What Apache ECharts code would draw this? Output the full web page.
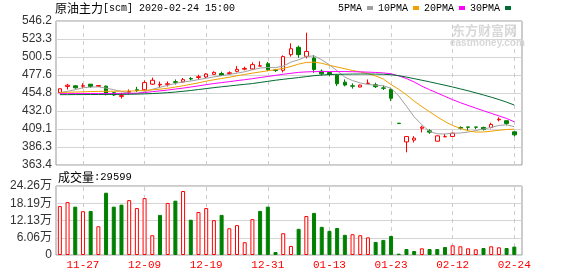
<!DOCTYPE html>
<html><head><meta charset="utf-8">
<script src="https://cdn.jsdelivr.net/npm/echarts@6/dist/echarts.min.js"></script>
<style>html,body{margin:0;padding:0;background:#fff}#c{width:578px;height:276px}</style>
</head><body><div id="c"></div>
<script>
const dateLabels = ['11-27','12-09','12-19','12-31','01-13','01-23','02-12','02-24'];
const dateLabelIdx = [3,11,19,27,35,43,51,59];
const priceTicks = ['363.4','386.3','409.1','432.0','454.8','477.6','500.5','523.3','546.2'];
const volTicks = ['0','6.06万','12.13万','18.19万','24.26万'];
const maNames = ['5PMA','10PMA','20PMA','30PMA'];

const openP = [455.2,463.1,463.9,463.5,466.0,463.2,463.5,455.2,450.5,455.8,
  459.0,458.9,466.0,465.0,465.8,469.2,468.8,473.2,474.5,475.1,
  478.5,479.5,479.5,482.3,485.0,485.3,489.0,492.0,484.0,483.6,
  503.5,512.8,501.3,499.2,482.5,480.8,477.4,468.6,463.9,462.4,
  467.0,465.3,461.3,459.4,416.5,392.7,395.0,410.0,406.8,393.6,
  399.2,399.6,411.0,411.7,411.6,411.1,411.1,420.8,419.6,405.5];
const closeP = [460.2,464.7,461.4,464.0,463.1,464.3,453.1,452.3,451.5,456.8,
  458.0,468.0,471.0,465.8,466.5,468.3,471.7,472.6,475.5,478.9,
  481.0,477.0,480.5,484.8,486.0,490.8,489.3,484.4,483.5,501.0,
  511.0,503.5,507.6,484.6,479.1,478.3,466.5,464.9,463.5,464.9,
  467.3,462.8,460.8,448.1,416.0,399.5,397.5,411.5,405.1,400.4,
  399.4,403.8,410.2,411.3,411.4,408.5,414.9,421.5,416.2,401.7];
const lowP = [455.0,459.3,460.2,460.6,461.4,463.0,451.8,451.0,447.7,452.7,
  456.0,458.5,465.0,462.0,463.0,465.5,467.9,470.9,471.7,473.8,
  478.0,476.8,478.1,481.0,483.6,484.0,488.8,482.7,481.5,481.0,
  501.0,499.5,498.8,480.4,477.0,476.2,463.6,463.2,460.3,462.0,
  466.8,461.1,458.6,444.7,415.9,379.5,391.9,404.7,403.0,393.3,
  399.0,399.3,408.5,407.3,408.9,407.2,409.8,418.8,413.6,399.5];
const highP = [460.5,466.4,464.7,467.2,466.2,464.5,464.3,455.6,455.0,459.3,
  462.6,470.9,474.3,469.3,469.5,472.0,473.8,475.0,478.0,480.0,
  482.3,481.9,482.3,489.0,488.2,493.7,495.0,494.2,485.0,502.6,
  517.9,515.0,531.4,503.0,484.6,481.2,478.0,472.0,467.0,465.5,
  472.0,467.8,464.4,461.5,416.5,400.0,400.0,413.2,408.9,400.8,
  402.8,404.3,412.4,411.9,411.7,412.0,417.1,423.9,420.0,405.8];
const volume = [172000,186000,170000,154000,155000,101000,219000,170000,177000,193000,
  165000,200000,69500,141000,183000,191000,225000,124000,151000,165000,
  122500,141000,94000,105000,45000,126000,155000,170000,10600,76500,
  32000,92000,137000,148000,99000,85000,95000,71000,73000,69500,
  62000,46000,53000,67000,4700,21000,14000,23500,21000,21000,
  28000,34000,30600,23500,20000,24700,30600,27000,24700,29599];
const volUp = [1,1,0,1,0,1,0,0,0,1, 1,1,1,0,1,0,1,0,1,1, 1,0,1,1,1,1,0,0,0,1,
  1,0,1,0,0,0,0,0,1,1, 1,0,0,0,0,0,0,1,0,0, 0,1,1,1,1,0,1,1,0,0];
const ma5 = [455.0,457.0,459.0,461.5,462.3,462.6,461.0,459.0,456.8,454.5,
  453.8,456.5,459.5,462.0,464.5,467.0,468.8,470.0,471.8,473.5,
  475.2,476.8,478.4,480.0,481.8,484.3,486.5,487.2,487.0,489.0,
  494.0,497.0,501.0,502.0,497.0,490.5,483.0,475.0,470.5,467.6,
  465.6,464.7,463.9,460.8,451.0,438.0,424.5,414.5,406.0,403.0,
  402.8,403.8,404.0,405.2,407.2,409.0,411.2,413.6,414.5,412.0];
const ma10 = [455.5,455.8,456.0,456.3,456.6,456.8,457.0,457.0,457.1,457.3,
  457.5,458.0,458.8,459.7,460.8,462.3,464.0,465.8,467.7,469.8,
  471.6,473.2,474.8,476.6,478.4,480.0,481.5,483.0,484.4,486.0,
  488.5,491.5,493.6,494.0,492.5,490.0,487.8,485.6,483.4,481.5,
  479.5,476.5,472.5,465.5,459.5,452.5,444.5,437.5,431.0,424.5,
  418.5,413.5,410.0,406.8,405.2,405.3,406.3,407.5,408.5,408.8];
const ma20 = [454.0,454.0,454.1,454.1,454.2,454.2,454.2,454.2,454.3,454.4,
  454.6,455.3,456.5,457.5,458.5,459.8,461.0,462.4,463.8,465.4,
  466.8,468.0,469.2,470.5,471.7,473.0,474.4,475.8,477.2,478.6,
  479.8,481.0,481.6,481.9,482.0,482.0,482.0,482.0,481.8,481.6,
  481.3,480.9,480.3,479.2,476.5,473.2,468.8,463.5,459.0,454.8,
  450.5,446.3,442.5,439.0,435.6,432.3,429.0,425.8,422.5,418.2];
const ma30 = [452.7,452.7,452.8,452.8,452.9,452.9,453.0,453.0,453.1,453.2,
  453.4,453.7,454.1,454.6,455.2,456.0,457.0,458.0,459.2,460.4,
  461.6,462.7,463.7,464.8,465.8,466.8,468.2,469.6,471.0,472.2,
  473.3,474.4,475.6,476.8,477.6,478.2,478.5,478.7,478.8,478.9,
  478.9,478.8,478.6,478.0,476.8,475.0,473.0,471.0,469.0,466.8,
  464.6,462.4,460.0,457.6,455.0,452.3,449.5,446.5,443.2,439.5];

const RED = '#ff0000', GREEN = '#008000';
const candleData = openP.map((o, i) => [i, o, closeP[i], lowP[i], highP[i]]);
const volData = volume.map((v, i) => ({
  value: [i, v],
  itemStyle: volUp[i] ? {color: '#ffffff', borderColor: RED, borderWidth: 1}
                      : {color: GREEN, borderColor: GREEN, borderWidth: 1}
}));
const maColors = ['#a0a0a0', '#f0a000', '#ff00ff', '#006b33'];
const maLists = [ma5, ma10, ma20, ma30];
const vLines = dateLabelIdx.map(v => ({xAxis: v}));
const dashLine = {silent: true, symbol: ['none','none'], label: {show: false}, z: 1,
  lineStyle: {color: '#cccccc', type: [4, 4], width: 1}, emphasis: {disabled: true}, data: vLines, animation: false};

const labelFont = "'Liberation Sans','Noto Sans CJK SC',sans-serif";
const monoFont = "'Liberation Mono','Noto Sans CJK SC',monospace";
const chart = echarts.init(document.getElementById('c'), null, {renderer: 'canvas'});
chart.setOption({
  animation: false,
  backgroundColor: '#ffffff',
  title: {
    left: 55, top: 2, padding: 0,
    text: '{a|原油主力}{b|[scm] 2020-02-24 15:00}',
    textStyle: {fontWeight: 'normal', rich: {
      a: {fontFamily: "'Noto Sans CJK SC'", fontSize: 12, fontWeight: 'normal', color: '#000'},
      b: {fontFamily: monoFont, fontSize: 10, fontWeight: 'normal', color: '#000'}
    }}
  },
  legend: {
    data: maNames, left: 338, top: 3, padding: 0, align: 'right', icon: 'rect',
    itemWidth: 6, itemHeight: 4, itemGap: 5, selectedMode: false,
    textStyle: {fontFamily: monoFont, fontSize: 10, color: '#000', padding: [0,0,0,0]}
  },
  graphic: [
    {type: 'text', left: 58, top: 171, style: {
      text: '{a|成交量}{b|:29599}',
      rich: {a: {fontFamily: "'Noto Sans CJK SC'", fontSize: 12, fill: '#000'},
             b: {fontFamily: monoFont, fontSize: 10.5, fill: '#000'}}}},
    {type: 'text', left: 452, top: 24, z: 0, style: {text: '东方财富网', font: "bold 13px 'Noto Sans CJK SC'", fill: '#d8d8d8'}},
    {type: 'text', left: 450, top: 38, z: 0, style: {text: 'eastmoney.com', font: "bold 10px 'Liberation Sans'", fill: '#d8d8d8'}}
  ],
  grid: [
    {left: 56, top: 21, width: 466, height: 144, show: true, borderColor: '#999', borderWidth: 1, backgroundColor: 'transparent'},
    {left: 56, top: 186, width: 466, height: 69, show: true, borderColor: '#999', borderWidth: 1, backgroundColor: 'transparent'}
  ],
  xAxis: [
    {type: 'value', gridIndex: 0, min: -0.5, max: 60, axisLine: {show: false}, axisTick: {show: false},
     axisLabel: {show: false}, splitLine: {show: false}},
    {type: 'value', gridIndex: 1, min: -0.5, max: 60, axisLine: {show: false}, axisTick: {show: false},
     splitLine: {show: false},
     axisLabel: {show: true, customValues: dateLabelIdx, margin: 5, color: RED, fontFamily: monoFont, fontSize: 11,
       formatter: v => dateLabels[dateLabelIdx.indexOf(Math.round(v))] || ''}}
  ],
  yAxis: [
    {type: 'value', gridIndex: 0, min: 363.4, max: 546.2, interval: 22.85, scale: true,
     axisLine: {show: false}, axisTick: {show: false},
     axisLabel: {margin: 4, color: '#333', fontFamily: labelFont, fontSize: 12, showMinLabel: true, showMaxLabel: true,
       formatter: v => priceTicks[Math.round((v - 363.4) / 22.85)]},
     splitLine: {show: true, lineStyle: {color: '#d4d4d4', width: 1}}},
    {type: 'value', gridIndex: 1, min: 0, max: 242600, interval: 60650,
     axisLine: {show: false}, axisTick: {show: false},
     axisLabel: {margin: 4, color: '#333', fontFamily: labelFont, fontSize: 12, showMinLabel: true, showMaxLabel: true,
       formatter: v => volTicks[Math.round(v / 60650)]},
     splitLine: {show: true, lineStyle: {color: '#d4d4d4', width: 1}}}
  ],
  series: [
    {type: 'candlestick', name: 'K', xAxisIndex: 0, yAxisIndex: 0, data: candleData, barWidth: 4, z: 2,
     itemStyle: {color: '#ffffff', color0: GREEN, borderColor: RED, borderColor0: GREEN, borderWidth: 1},
     markLine: dashLine},
    ...maLists.map((arr, k) => ({
      type: 'line', name: maNames[k], xAxisIndex: 0, yAxisIndex: 0, z: 3,
      data: arr.map((v, i) => [i, v]), showSymbol: false, symbol: 'none', smooth: false,
      color: maColors[k], itemStyle: {color: maColors[k]},
      lineStyle: {color: maColors[k], width: 1}
    })),
    {type: 'bar', name: 'VOL', xAxisIndex: 1, yAxisIndex: 1, data: volData, barWidth: 4, z: 2,
     markLine: dashLine}
  ]
});
</script></body></html>
